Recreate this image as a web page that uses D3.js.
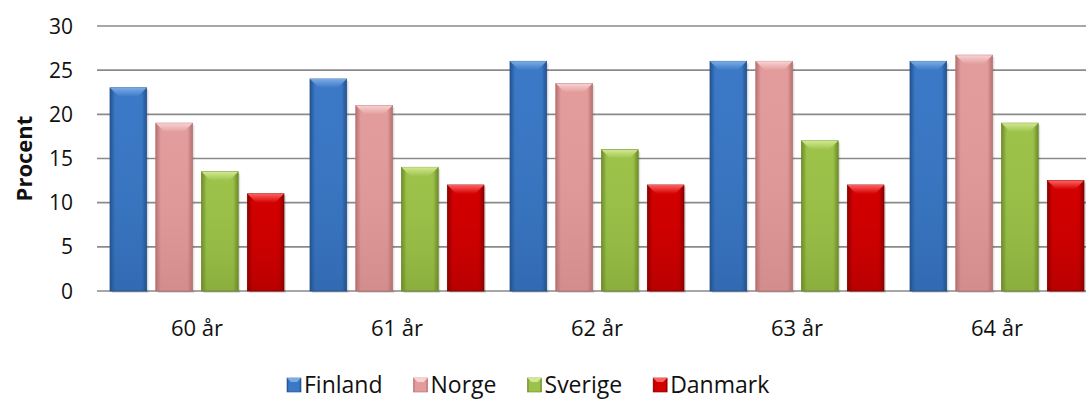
<!DOCTYPE html>
<html lang="sv">
<head>
<meta charset="UTF-8" />
<title>Procent per ålder</title>
<script src="https://cdn.jsdelivr.net/npm/d3@7"></script>
<style>
  body { margin: 0; background: #fff; }
  text { font-family: "Open Sans", "DejaVu Sans", sans-serif; fill: #111; }
</style>
</head>
<body>
<div id="container"></div>
<script>
// data
const categories = ['60 år', '61 år', '62 år', '63 år', '64 år']
const seriesNames = ['Finland', 'Norge', 'Sverige', 'Danmark']
const finland = [23, 24, 26, 26, 26]
const norge = [19, 21, 23.5, 26, 26.7]
const sverige = [13.5, 14, 16, 17, 19]
const danmark = [11, 12, 12, 12, 12.5]
const yTicks = [0, 5, 10, 15, 20, 25, 30]

const seriesValues = [finland, norge, sverige, danmark]
// base, light, dark
const palette = [
  ['#3b78c5', '#7aace6', '#23528f'],
  ['#e39c9c', '#f9d3d3', '#b77070'],
  ['#9cc24a', '#d2e990', '#6b8a27'],
  ['#d20000', '#ff6060', '#880000']
]

const width = 1086
const height = 401
const marginLeft = 97
const plotRight = 1097
const yTop = 26
const yBottom = 291

const svg = d3.select('#container').append('svg')
  .attr('width', width)
  .attr('height', height)

const defs = svg.append('defs')
palette.forEach((c, i) => {
  const g = defs.append('linearGradient').attr('id', 'grad' + i)
    .attr('x1', 0).attr('x2', 1).attr('y1', 0).attr('y2', 0)
  g.append('stop').attr('offset', '0%').attr('stop-color', c[2])
  g.append('stop').attr('offset', '14%').attr('stop-color', c[0])
  g.append('stop').attr('offset', '86%').attr('stop-color', c[0])
  g.append('stop').attr('offset', '100%').attr('stop-color', c[2])
  const t = defs.append('linearGradient').attr('id', 'top' + i)
    .attr('x1', 0).attr('x2', 0).attr('y1', 0).attr('y2', 1)
  t.append('stop').attr('offset', '0%').attr('stop-color', c[1])
  t.append('stop').attr('offset', '100%').attr('stop-color', c[0])
  const v = defs.append('linearGradient').attr('id', 'vert' + i)
    .attr('x1', 0).attr('x2', 0).attr('y1', 0).attr('y2', 1)
  v.append('stop').attr('offset', '0%').attr('stop-color', c[0]).attr('stop-opacity', 0)
  v.append('stop').attr('offset', '100%').attr('stop-color', c[2]).attr('stop-opacity', 0.35)
})

const x0 = d3.scaleBand().domain(categories).range([marginLeft, plotRight])
const x1 = d3.scaleBand().domain(seriesNames)
  .range([13, x0.bandwidth() - 13]).paddingInner(0.2)
const y = d3.scaleLinear().domain([0, 30]).range([yBottom, yTop])

// gridlines
svg.append('g')
  .selectAll('line')
  .data(yTicks)
  .join('line')
  .attr('x1', marginLeft)
  .attr('x2', width)
  .attr('y1', d => y(d))
  .attr('y2', d => y(d))
  .attr('stroke', '#8a8a8a')
  .attr('stroke-width', 1.6)

// y axis labels
svg.append('g')
  .selectAll('text')
  .data(yTicks)
  .join('text')
  .attr('x', 73)
  .attr('y', d => y(d))
  .attr('dy', '0.36em')
  .attr('text-anchor', 'end')
  .style('font-size', '21px')
  .text(d => d)

svg.append('text')
  .attr('transform', `translate(32, ${(yTop + yBottom) / 2}) rotate(-90)`)
  .attr('text-anchor', 'middle')
  .style('font-size', '22px')
  .style('font-weight', 'bold')
  .text('Procent')

// bars
const bars = []
categories.forEach((cat, ci) => {
  seriesNames.forEach((s, si) => {
    bars.push({ cat, s, si, v: seriesValues[si][ci] })
  })
})

const bw = x1.bandwidth()
const bevel = 9
const barG = svg.append('g')
  .selectAll('g')
  .data(bars)
  .join('g')
  .attr('transform', d => `translate(${x0(d.cat) + x1(d.s)}, ${y(d.v)})`)

barG.append('rect')
  .attr('x', 2).attr('y', 2)
  .attr('width', bw).attr('height', d => y(0) - y(d.v))
  .attr('fill', 'rgba(0,0,0,0.12)')

barG.append('rect')
  .attr('width', bw)
  .attr('height', d => y(0) - y(d.v))
  .attr('fill', d => `url(#grad${d.si})`)
  .attr('stroke', d => palette[d.si][2])
  .attr('stroke-width', 0.8)

barG.append('rect')
  .attr('width', bw)
  .attr('height', d => y(0) - y(d.v))
  .attr('fill', d => `url(#vert${d.si})`)

barG.append('polygon')
  .attr('points', `0,0 ${bw},0 ${bw - bevel},${bevel} ${bevel},${bevel}`)
  .attr('fill', d => `url(#top${d.si})`)

// x labels
svg.append('g')
  .selectAll('text')
  .data(categories)
  .join('text')
  .attr('x', d => x0(d) + x0.bandwidth() / 2)
  .attr('y', 336)
  .attr('text-anchor', 'middle')
  .style('font-size', '22px')
  .text(d => d)

// legend
const legend = svg.append('g').attr('transform', 'translate(287, 385)')
let lx = 0
seriesNames.forEach((s, i) => {
  const item = legend.append('g').attr('transform', `translate(${lx}, 0)`)
  item.append('rect')
    .attr('x', 0).attr('y', -7)
    .attr('width', 14).attr('height', 14)
    .attr('fill', `url(#grad${i})`)
    .attr('stroke', palette[i][2])
    .attr('stroke-width', 0.6)
  item.append('polygon')
    .attr('points', '0,-7 14,-7 10,-3 4,-3')
    .attr('fill', palette[i][1])
  const t = item.append('text')
    .attr('x', 17)
    .attr('dy', '0.36em')
    .style('font-size', '23px')
    .text(s)
  lx += 17 + t.node().getComputedTextLength() + 31
})
</script>
</body>
</html>
